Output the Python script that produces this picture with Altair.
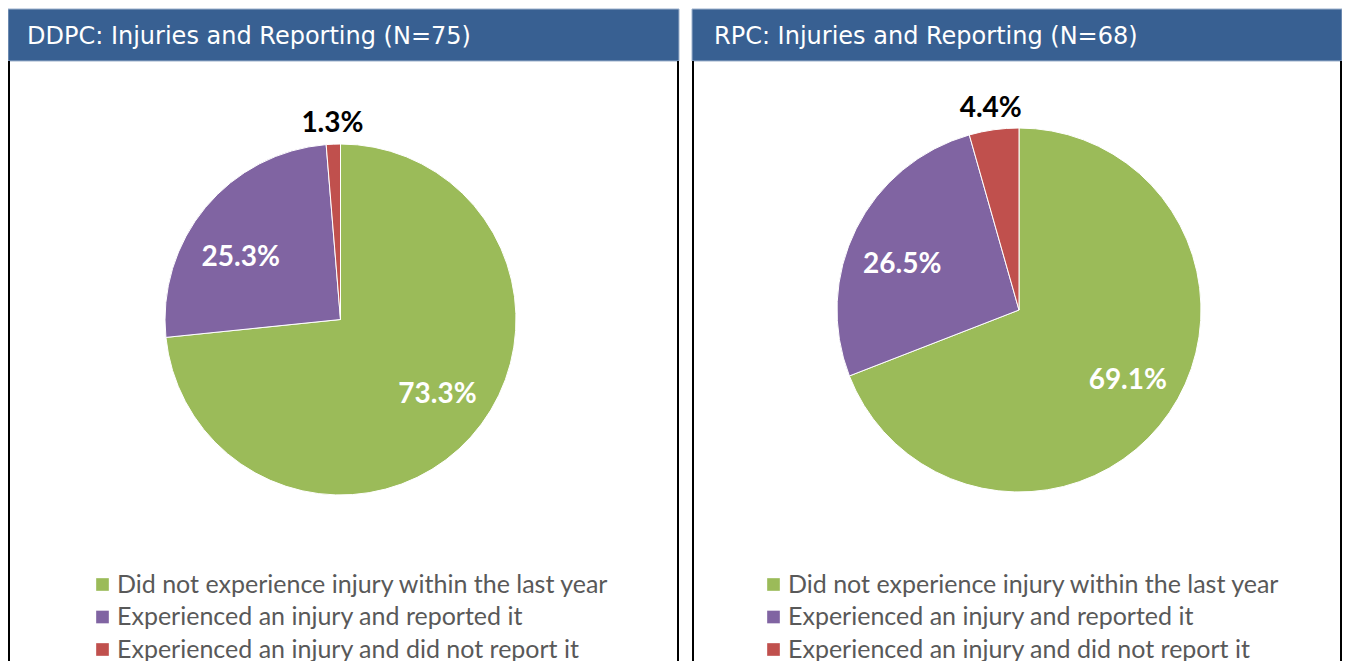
import altair as alt
import pandas as pd

# ---- data ----
categories = [
    "Did not experience injury within the last year",
    "Experienced an injury and reported it",
    "Experienced an injury and did not report it",
]
colors = ["#9BBB59", "#8064A2", "#C0504D"]
panel_keys = ["DDPC", "RPC"]
panel_titles = ["DDPC: Injuries and Reporting (N=75)", "RPC: Injuries and Reporting (N=68)"]
ddpc_values = [73.3, 25.3, 1.3]
rpc_values = [69.1, 26.5, 4.4]

rows = []
for key, vals in zip(panel_keys, [ddpc_values, rpc_values]):
    for i, (c, v) in enumerate(zip(categories, vals)):
        rows.append({"panel": key, "category": c, "value": v, "idx": i})
df = pd.DataFrame(rows)
title_df = pd.DataFrame({"panel": panel_keys, "title": panel_titles})

BAR = "#386092"
W, H = 1334, 653


def panel(key, x0, x1, tx, cx, cy, r, r_in, r_out, th_off, lx, ly):
    layers = []
    tdata = alt.Chart(title_df).transform_filter(alt.datum.panel == key)
    # title bar
    layers.append(tdata.mark_rect(fill=BAR, stroke="#9DB1CC", strokeWidth=1).encode(
        x=alt.value(x0), x2=alt.value(x1), y=alt.value(1), y2=alt.value(53)))
    # box borders
    for bx in (x0 + 1, x1 - 1):
        layers.append(tdata.mark_rule(color="black", strokeWidth=2).encode(
            x=alt.value(bx), y=alt.value(53), y2=alt.value(H)))
    # title text
    layers.append(tdata.mark_text(align="left", baseline="middle", font="DejaVu Sans",
                                  fontSize=24, color="white").encode(
        x=alt.value(tx), y=alt.value(29), text="title:N"))

    base = alt.Chart(df).transform_filter(alt.datum.panel == key).transform_calculate(
        lab_in="datum.idx < 2 ? format(datum.value, '.1f') + '%' : ''",
        lab_out="datum.idx == 2 ? format(datum.value, '.1f') + '%' : ''",
    )
    theta = alt.Theta("value:Q", stack=True)
    order = alt.Order("idx:Q")
    layers.append(base.mark_arc(radius=r, stroke="white", strokeWidth=1).encode(
        theta=theta, order=order,
        color=alt.Color("category:N", scale=alt.Scale(domain=categories, range=colors),
                        legend=alt.Legend(orient="none", legendX=lx, legendY=ly, title=None,
                                          direction="vertical",
                                          symbolType="square", symbolSize=160,
                                          symbolStrokeWidth=0, labelFont="Lato",
                                          labelFontSize=25, labelColor="#595959",
                                          rowPadding=6.5, labelOffset=2, padding=0,
                                          labelLimit=0)),
        x=alt.value(cx), y=alt.value(cy)))
    layers.append(base.mark_text(radius=r_in, thetaOffset=th_off, dy=5, font="Lato",
                                 fontWeight="bold", fontSize=28, color="white").encode(
        theta=theta, order=order, text="lab_in:N", x=alt.value(cx), y=alt.value(cy)))
    layers.append(base.mark_text(radius=r_out, dy=2, font="Lato", fontWeight="bold", fontSize=28,
                                 color="black").encode(
        theta=theta, order=order, text="lab_out:N", x=alt.value(cx), y=alt.value(cy)))
    return layers


layers = []
layers += panel("DDPC", 0, 671, 19, 332.5, 311.5, 175.5, 120, 198, -0.105, 82, 564)
layers += panel("RPC", 684, 1334, 706, 1011, 302, 182, 127, 205, -0.058, 753, 564)

chart = alt.layer(*layers).resolve_scale(theta="independent", color="independent").properties(
    width=W, height=H, padding=0, autosize=alt.AutoSizeParams(type="none")
).configure_view(stroke=None)

chart.save("out.html", embed_options={"renderer": "svg", "actions": False})
